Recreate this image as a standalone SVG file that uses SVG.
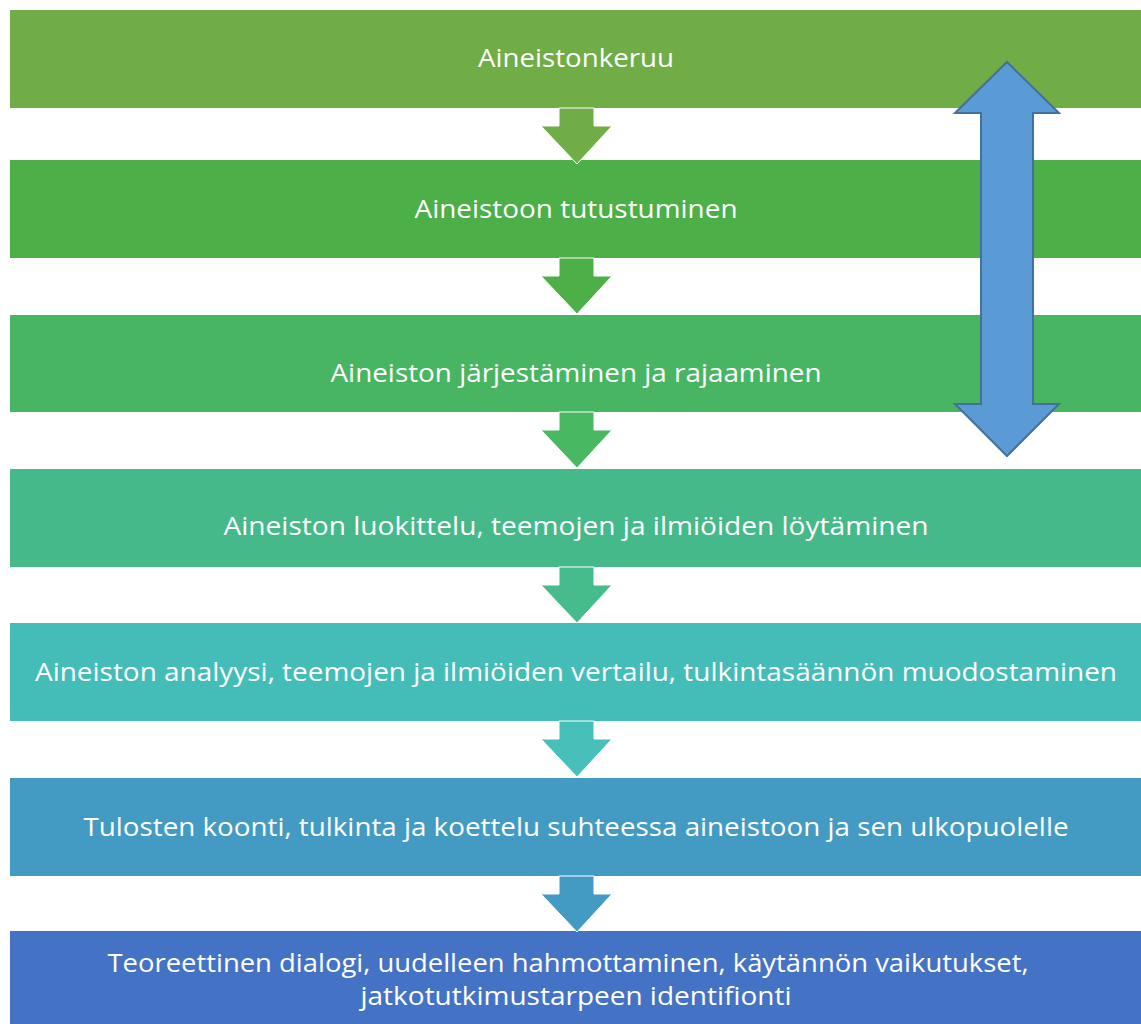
<svg xmlns="http://www.w3.org/2000/svg" width="1141" height="1024" viewBox="0 0 1141 1024">
<style>
.t{font-family:"Open Sans","Liberation Sans",sans-serif;font-size:26px;fill:#ffffff;text-anchor:middle}
.ar{stroke:#ffffff;stroke-width:1}
</style>
<defs>
<path id="dn" d="M-18,0 H17 V18 H35 L0,56 L-36,18 H-18 Z"/>
</defs>
<rect width="1141" height="1024" fill="#ffffff"/>
<g id="n1"><rect x="10" y="10" width="1131" height="98" fill="#70ad47"/>
<text class="t" x="576" y="67" textLength="196" lengthAdjust="spacingAndGlyphs">Aineistonkeruu</text></g>
<g id="n2"><rect x="10" y="160" width="1131" height="98" fill="#4caf48"/>
<text class="t" x="576" y="218" textLength="323" lengthAdjust="spacingAndGlyphs">Aineistoon tutustuminen</text></g>
<g id="n3"><rect x="10" y="315" width="1131" height="97" fill="#47b562"/>
<text class="t" x="576" y="382" textLength="491" lengthAdjust="spacingAndGlyphs">Aineiston järjestäminen ja rajaaminen</text></g>
<g id="n4"><rect x="10" y="469" width="1131" height="98" fill="#45b98a"/>
<text class="t" x="576" y="535" textLength="705" lengthAdjust="spacingAndGlyphs">Aineiston luokittelu, teemojen ja ilmiöiden löytäminen</text></g>
<g id="n5"><rect x="10" y="623" width="1131" height="98" fill="#44bdb9"/>
<text class="t" x="576" y="681" textLength="1082" lengthAdjust="spacingAndGlyphs">Aineiston analyysi, teemojen ja ilmiöiden vertailu, tulkintasäännön muodostaminen</text></g>
<g id="n6"><rect x="10" y="778" width="1131" height="98" fill="#439bc3"/>
<text class="t" x="576" y="836" textLength="985" lengthAdjust="spacingAndGlyphs">Tulosten koonti, tulkinta ja koettelu suhteessa aineistoon ja sen ulkopuolelle</text></g>
<g id="n7"><rect x="10" y="931" width="1131" height="93" fill="#4472c4"/>
<text class="t" x="568" y="972" textLength="921" lengthAdjust="spacingAndGlyphs">Teoreettinen dialogi, uudelleen hahmottaminen, käytännön vaikutukset,</text>
<text class="t" x="576" y="1005" textLength="431" lengthAdjust="spacingAndGlyphs">jatkotutkimustarpeen identifionti</text></g>
<g id="connectors">
<use href="#dn" class="ar" x="577" y="108" fill="#70ad47"/>
<use href="#dn" class="ar" x="577" y="258" fill="#4caf48"/>
<use href="#dn" class="ar" x="577" y="412" fill="#48b862"/>
<use href="#dn" class="ar" x="577" y="567" fill="#46bb8c"/>
<use href="#dn" class="ar" x="577" y="721" fill="#47c0b9"/>
<use href="#dn" class="ar" x="577" y="876" fill="#439bc3"/>
<path d="M1007,62 L1059,113 H1033 V404 H1059 L1007,456 L955,404 H981 V113 H955 Z" fill="#5b9bd5" stroke="#41719c" stroke-width="2" stroke-linejoin="miter"/>
</g>
</svg>
